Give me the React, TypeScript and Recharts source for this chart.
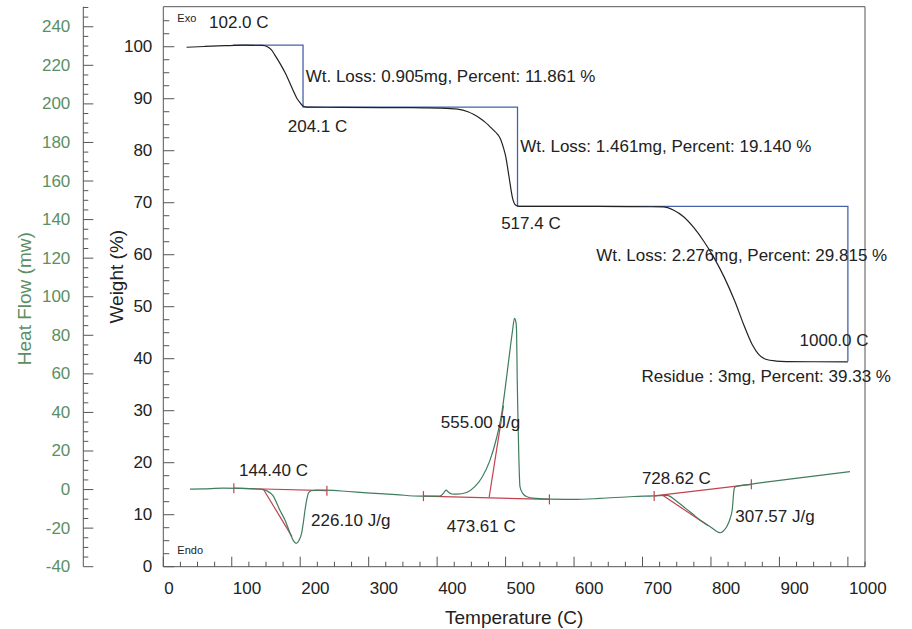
import { ComposedChart, Line, XAxis, YAxis, ReferenceDot, Label } from "recharts";

// TGA weight curve
const tgaTemp = [34, 60, 90, 120, 145, 152, 158, 163, 170, 178, 185, 190, 195, 200, 204, 210, 260, 320, 380, 404, 430, 445, 453, 463, 470, 482, 488, 492, 497, 500, 505, 510, 515, 520, 560, 620, 680, 730, 745, 760, 775, 790, 805, 820, 835, 848, 860, 870, 880, 895, 910, 950, 1000];
const tgaWeight = [99.9, 100.05, 100.2, 100.3, 100.25, 100.0, 99.4, 98.4, 96.9, 95.0, 93.0, 91.5, 90.1, 89.2, 88.6, 88.4, 88.35, 88.3, 88.25, 88.2, 88.0, 87.5, 87.0, 86.2, 85.5, 84.0, 83.2, 82.4, 80.5, 79.0, 75.0, 71.0, 69.5, 69.3, 69.3, 69.3, 69.25, 69.2, 68.6, 67.3, 65.2, 62.5, 59.3, 55.5, 51.0, 46.5, 42.8, 40.8, 39.9, 39.55, 39.45, 39.42, 39.4];

// step analysis (blue)
const stepTemp = [102, 204.1, 204.1, 517.4, 517.4, 1000, 1000];
const stepWeight = [100.3, 100.3, 88.4, 88.4, 69.3, 69.3, 39.5];

// DSC heat flow curve
const dscTemp = [39, 60, 87, 110, 141, 151, 160, 170, 178, 185, 190, 194, 198, 202, 205, 207, 210, 212, 216, 225, 239, 270, 297, 340, 375, 404, 409, 413, 417, 422, 429, 443, 455, 465, 477, 487, 494.5, 501, 507, 510, 513, 515, 516, 517, 518.5, 519, 521, 525, 531, 545, 565, 600, 638, 687, 716, 736, 748, 760, 772, 784, 800, 810, 814, 818, 823, 828, 831, 834, 836, 857, 906, 950, 1003];
const dscFlow = [0.2, 0.4, 0.7, 0.6, 0.2, -0.6, -3, -10.5, -16, -22.5, -26.5, -27.9, -26.5, -22.7, -16, -10.6, -4.5, -1.8, -0.6, -0.3, -0.3, -1.0, -1.7, -2.6, -3.4, -3.4, -2.0, -0.3, -1.5, -2.3, -2.4, -1.5, 1.5, 6, 15, 27, 39.8, 57, 74, 82, 88.8, 87, 82.7, 56.8, 30, 22.2, 1.5, -2.0, -3.7, -4.6, -5.0, -5.1, -4.6, -3.6, -3.3, -3.0, -5.5, -8.9, -12.3, -15.8, -19.5, -22, -22.4, -21.5, -19.3, -15, -10.6, 0.6, 1.5, 2.7, 5.0, 7.0, 9.3];

// integration baselines and onset tangents: [t1, hf1, t2, hf2]
const baselines = [
  [103, 0.7, 239, -0.6],
  [380, -3.4, 564, -5.1],
  [717, -3.3, 859, 2.7],
];
const tangents = [
  [146, 0.3, 188, -24.4],
  [476, -4.0, 497, 43.5],
  [730, -3.1, 796, -18.8],
];

const weightTicks = Array.from({ length: 43 }, (_, i) => i * 2.5);
const flowTicks = Array.from({ length: 59 }, (_, i) => -40 + i * 5);
const tempTicks = Array.from({ length: 42 }, (_, i) => i * 25);

// weight axis sits next to the plot, heat flow axis outside it
const W = "inner";
const HF = "outer";

const notes = [
  { t: 20.5, v: 105.6, axis: W, text: "Exo", small: true },
  { t: 20.5, v: 3.2, axis: W, text: "Endo", small: true },
  { t: 66.8, v: 104.6, axis: W, text: "102.0 C" },
  { t: 208, v: 94.2, axis: W, text: "Wt. Loss: 0.905mg, Percent: 11.861 %" },
  { t: 181.8, v: 84.75, axis: W, text: "204.1 C" },
  { t: 521.4, v: 80.9, axis: W, text: "Wt. Loss: 1.461mg, Percent: 19.140 %" },
  { t: 493.5, v: 66.1, axis: W, text: "517.4 C" },
  { t: 632.3, v: 59.9, axis: W, text: "Wt. Loss: 2.276mg, Percent: 29.815 %" },
  { t: 929.4, v: 43.5, axis: W, text: "1000.0 C" },
  { t: 698.5, v: 36.5, axis: W, text: "Residue : 3mg, Percent: 39.33 %" },
  { t: 405.4, v: 34.7, axis: HF, text: "555.00 J/g" },
  { t: 110.6, v: 10.1, axis: HF, text: "144.40 C" },
  { t: 215.8, v: -16.1, axis: HF, text: "226.10 J/g" },
  { t: 414.1, v: -18.9, axis: HF, text: "473.61 C" },
  { t: 699.1, v: 5.5, axis: HF, text: "728.62 C" },
  { t: 835.5, v: -14.1, axis: HF, text: "307.57 J/g" },
];

const AXIS = "#555";
const GREEN_TXT = "#5b8f63";
const FONT = "'Liberation Sans', Arial, sans-serif";

const tgaData = tgaTemp.map((t, i) => ({ t, w: tgaWeight[i] }));
const stepData = stepTemp.map((t, i) => ({ t, w: stepWeight[i] }));
const dscData = dscTemp.map((t, i) => ({ t, hf: dscFlow[i] }));
const seg = (s: number[]) => [{ t: s[0], hf: s[1] }, { t: s[2], hf: s[3] }];

const WeightTick = ({ x, y, payload }: any) => {
  const major = payload.value % 10 === 0;
  return (
    <g>
      <line x1={x} x2={x + (major ? 11 : 6)} y1={y} y2={y} stroke={AXIS} />
      {major && (
        <text x={x - 11} y={y} textAnchor="end" dominantBaseline="central" fontSize={17} fill="#222" fontFamily={FONT}>
          {payload.value}
        </text>
      )}
    </g>
  );
};

const FlowTick = ({ x, y, payload }: any) => {
  const major = payload.value % 20 === 0;
  return (
    <g>
      <line x1={x} x2={x + (major ? 10 : 5)} y1={y} y2={y} stroke={AXIS} />
      {major && (
        <text x={x - 13} y={y} textAnchor="end" dominantBaseline="central" fontSize={17} fill={GREEN_TXT} fontFamily={FONT}>
          {payload.value}
        </text>
      )}
    </g>
  );
};

const TempTick = ({ x, y, payload }: any) => {
  const major = payload.value % 100 === 0;
  return (
    <g>
      <line x1={x} x2={x} y1={y} y2={y - (major ? 10 : 5)} stroke={AXIS} />
      {major && payload.value <= 1000 && (
        <text x={x + 1} y={y + 22} textAnchor="start" dominantBaseline="central" fontSize={17} fill="#222" fontFamily={FONT}>
          {payload.value}
        </text>
      )}
    </g>
  );
};

const BaseDot = (props: any) => (
  <line key={`bd${props.index}`} x1={props.cx} x2={props.cx} y1={props.cy - 5} y2={props.cy + 5} stroke="#c4424f" strokeWidth={1.2} />
);

const AxisTitle = (dx: number, dy: number, text: string, color: string) => (props: any) => {
  const { viewBox } = props;
  const cx = viewBox.x + dx;
  const cy = viewBox.y + viewBox.height / 2 + dy;
  return (
    <text x={cx} y={cy} transform={`rotate(-90 ${cx} ${cy})`} textAnchor="middle" dominantBaseline="central" fontSize={19} fill={color} fontFamily={FONT}>
      {text}
    </text>
  );
};

export default function App() {
  return (
    <div style={{ position: "absolute", left: 0, top: 0, width: 912, height: 629, background: "#fff", fontFamily: FONT }}>
      <ComposedChart width={912} height={629} margin={{ top: 5.7, right: 46, bottom: 0, left: 0 }}>
        <XAxis
          dataKey="t"
          type="number"
          domain={[0, 1025]}
          allowDataOverflow
          ticks={tempTicks}
          interval={0}
          height={62.3}
          stroke={AXIS}
          tickLine={false}
          tickSize={0}
          tickMargin={0}
          tick={<TempTick />}
        >
          <Label value="Temperature (C)" position="insideBottom" offset={5} fontSize={19} fill="#222" />
        </XAxis>
        <XAxis
          xAxisId="top"
          orientation="top"
          type="number"
          domain={[0, 1025]}
          allowDataOverflow
          ticks={tempTicks}
          interval={0}
          height={1}
          stroke={AXIS}
          tickSize={2}
          tick={false}
        />
        <YAxis
          yAxisId={W}
          type="number"
          domain={[0, 107.7]}
          allowDataOverflow
          ticks={weightTicks}
          interval={0}
          width={80}
          stroke={AXIS}
          tickLine={false}
          tickSize={0}
          tickMargin={0}
          tick={<WeightTick />}
        >
          <Label content={AxisTitle(33, -10, "Weight (%)", "#222")} />
        </YAxis>
        <YAxis
          yAxisId={HF}
          type="number"
          domain={[-40, 250.4]}
          allowDataOverflow
          ticks={flowTicks}
          interval={0}
          width={83.3}
          stroke={AXIS}
          tickLine={false}
          tickSize={0}
          tickMargin={0}
          tick={<FlowTick />}
        >
          <Label content={AxisTitle(25, 12, "Heat Flow (mw)", GREEN_TXT)} />
        </YAxis>
        <YAxis
          yAxisId="wr"
          orientation="right"
          type="number"
          domain={[0, 107.7]}
          allowDataOverflow
          ticks={weightTicks}
          interval={0}
          width={1}
          stroke={AXIS}
          tickSize={2}
          tick={false}
        />

        <Line data={stepData} dataKey="w" yAxisId={W} type="linear" stroke="#4862a8" strokeWidth={1.3} dot={false} isAnimationActive={false} />
        <Line data={tgaData} dataKey="w" yAxisId={W} type="monotone" stroke="#222" strokeWidth={1.2} dot={false} isAnimationActive={false} />
        {baselines.map((b, i) => (
          <Line key={`b${i}`} data={seg(b)} dataKey="hf" yAxisId={HF} type="linear" stroke="#c4424f" strokeWidth={1.2} dot={<BaseDot />} isAnimationActive={false} />
        ))}
        {tangents.map((s, i) => (
          <Line key={`s${i}`} data={seg(s)} dataKey="hf" yAxisId={HF} type="linear" stroke="#c4424f" strokeWidth={1.2} dot={false} isAnimationActive={false} />
        ))}
        <Line data={dscData} dataKey="hf" yAxisId={HF} type="monotone" stroke="#3f7d5e" strokeWidth={1.2} dot={false} isAnimationActive={false} />

        {notes.map((n, i) => (
          <ReferenceDot
            key={`n${i}`}
            x={n.t}
            y={n.v}
            yAxisId={n.axis}
            r={0}
            shape={(p: any) => (
              <text x={p.cx} y={p.cy} dominantBaseline="central" fontSize={n.small ? 11 : 17} fill="#222" fontFamily={FONT}>
                {n.text}
              </text>
            )}
          />
        ))}
      </ComposedChart>
    </div>
  );
}
